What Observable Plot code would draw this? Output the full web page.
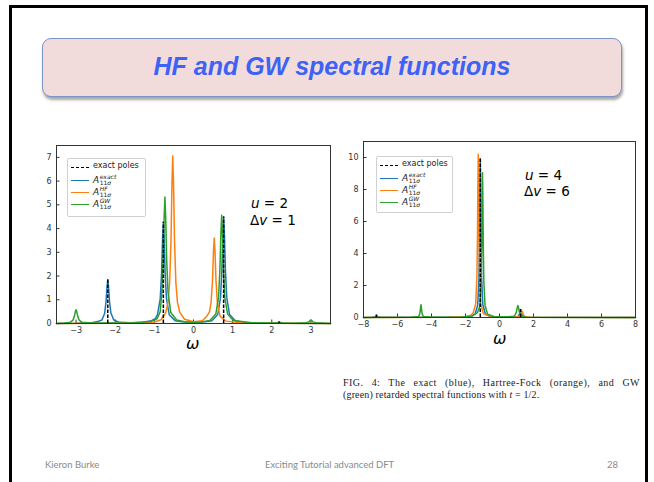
<!DOCTYPE html>
<html><head><meta charset="utf-8">
<script src="https://cdn.jsdelivr.net/npm/d3@7"></script>
<script src="https://cdn.jsdelivr.net/npm/@observablehq/plot@0.6"></script>
<style>
body{margin:0;background:#fff;}
#page{position:relative;width:654px;height:482px;overflow:hidden;background:#fff;}
.abs{position:absolute;white-space:nowrap;}
.slide{position:absolute;left:9px;top:5px;width:633px;height:500px;border:3px solid #000;}
.titlebox{position:absolute;left:42px;top:38px;width:578px;height:57px;background:#f2dcdb;border:1px solid #7d94c6;border-radius:9px;box-shadow:1px 3px 3px rgba(0,0,0,0.35);}
.title{position:absolute;left:42px;top:38px;width:580px;height:59px;line-height:57px;text-align:center;font-family:"Liberation Sans",Arial,sans-serif;font-weight:bold;font-style:italic;font-size:25px;color:#3d62f5;}
.foot{font-family:Lato,"Open Sans",sans-serif;font-size:9.5px;color:#8a8a8a;}
.cap{font-family:"Liberation Serif","DejaVu Serif",serif;font-size:10px;letter-spacing:0.15px;color:#222;}
.legend{position:absolute;background:rgba(255,255,255,0.9);border:1px solid #d0d0d0;border-radius:2px;}
.li{position:absolute;left:0;font-family:"DejaVu Sans",sans-serif;font-size:8px;color:#222;}
.sw{position:absolute;height:0;}
.ann{font-family:"DejaVu Sans",sans-serif;font-size:13.5px;color:#000;}
.omega{font-family:"DejaVu Sans",sans-serif;font-style:italic;font-size:16px;line-height:14px;color:#000;}
.A{font-style:italic;font-size:9px;}
.ss{display:inline-block;vertical-align:-2px;line-height:5.5px;font-size:6px;margin-left:0.5px;}
</style>
</head><body>
<div id="page">
  <div class="slide"></div>
  <div class="titlebox"></div>
  <div class="title">HF and GW spectral functions</div>
  <div id="left" class="abs" style="left:30px;top:140px;"></div>
  <div id="right" class="abs" style="left:330px;top:136px;"></div>
</div>
<script>
// ---------- data: left panel (u = 2, Δv = 1) ----------
const blue = "#1f77b4", orange = "#ff7f0e", green = "#2ca02c";
const xTicksL = [-3, -2, -1, 0, 1, 2, 3];
const yTicksL = [0, 1, 2, 3, 4, 5, 6, 7];
const polesL = [[-2.19, 1.84], [-0.77, 4.27], [0.77, 4.49], [2.19, 0.06]];
const exactL = [[-3.5,0.005],[-3.0,0.01],[-2.6,0.03],[-2.45,0.08],[-2.34,0.15],[-2.27,0.42],[-2.235,0.92],[-2.21,1.54],[-2.19,1.84],[-2.17,1.54],[-2.145,0.92],[-2.11,0.44],[-2.04,0.16],[-1.9,0.05],[-1.6,0.03],[-1.3,0.05],[-1.07,0.12],[-0.97,0.22],[-0.92,0.37],[-0.85,1.04],[-0.815,2.14],[-0.79,3.57],[-0.77,4.27],[-0.75,3.57],[-0.725,2.14],[-0.69,1.04],[-0.62,0.37],[-0.47,0.12],[-0.3,0.07],[0,0.05],[0.3,0.07],[0.47,0.12],[0.62,0.38],[0.69,1.09],[0.725,2.25],[0.75,3.75],[0.77,4.49],[0.79,3.75],[0.815,2.25],[0.85,1.09],[0.92,0.38],[1.07,0.12],[1.3,0.04],[1.7,0.02],[2.1,0.015],[2.17,0.05],[2.19,0.06],[2.21,0.05],[2.3,0.01],[3.5,0.005]];
const hfL = [[-3.5,0.003],[-2.0,0.01],[-1.3,0.025],[-1.0,0.06],[-0.83,0.16],[-0.71,0.45],[-0.65,0.9],[-0.61,1.7],[-0.575,3.5],[-0.55,5.9],[-0.53,7.06],[-0.51,5.9],[-0.485,3.5],[-0.45,1.7],[-0.41,0.9],[-0.35,0.47],[-0.23,0.18],[0,0.07],[0.23,0.12],[0.35,0.33],[0.41,0.5],[0.45,0.9],[0.485,1.8],[0.51,3.0],[0.53,3.6],[0.55,3.0],[0.575,1.8],[0.61,0.87],[0.68,0.3],[0.83,0.1],[1.2,0.03],[2.0,0.01],[3.5,0.003]];
const gwL = [[-3.5,0.005],[-3.3,0.02],[-3.15,0.05],[-3.08,0.14],[-3.045,0.29],[-3.02,0.48],[-3.0,0.58],[-2.98,0.48],[-2.955,0.29],[-2.92,0.14],[-2.85,0.05],[-2.6,0.02],[-1.5,0.03],[-1.1,0.08],[-0.93,0.2],[-0.85,0.5],[-0.81,1.3],[-0.775,2.67],[-0.75,4.45],[-0.73,5.33],[-0.71,4.45],[-0.685,2.67],[-0.65,1.3],[-0.58,0.46],[-0.43,0.15],[-0.2,0.06],[0,0.05],[0.2,0.06],[0.42,0.13],[0.57,0.4],[0.64,1.1],[0.675,2.28],[0.70,3.8],[0.72,4.56],[0.74,3.8],[0.765,2.28],[0.80,1.1],[0.87,0.4],[1.02,0.13],[1.5,0.03],[2.6,0.01],[2.88,0.03],[2.95,0.07],[2.98,0.12],[3.0,0.15],[3.02,0.12],[3.05,0.07],[3.12,0.03],[3.5,0.005]];

// ---------- data: right panel (u = 4, Δv = 6) ----------
const xTicksR = [-8, -6, -4, -2, 0, 2, 4, 6, 8];
const yTicksR = [0, 2, 4, 6, 8, 10];
const polesR = [[-7.24, 0.15], [-1.13, 9.9], [1.24, 0.5]];
const exactR = [[-8,0.003],[-7.5,0.01],[-7.32,0.04],[-7.27,0.1],[-7.24,0.15],[-7.21,0.1],[-7.16,0.04],[-7.0,0.01],[-4,0.01],[-2.0,0.03],[-1.6,0.1],[-1.43,0.22],[-1.28,0.8],[-1.21,2.4],[-1.175,4.95],[-1.15,8.3],[-1.13,9.9],[-1.11,8.3],[-1.085,4.95],[-1.05,2.4],[-0.98,0.8],[-0.83,0.22],[-0.6,0.08],[0,0.02],[0.8,0.03],[1.09,0.07],[1.16,0.17],[1.2,0.35],[1.24,0.5],[1.28,0.35],[1.32,0.17],[1.39,0.07],[1.6,0.02],[8,0.002]];
const hfR = [[-8,0.003],[-3,0.02],[-2.0,0.05],[-1.7,0.12],[-1.55,0.28],[-1.4,0.85],[-1.33,2.45],[-1.295,5.1],[-1.27,8.5],[-1.25,10.2],[-1.23,8.5],[-1.205,5.1],[-1.17,2.45],[-1.10,0.85],[-0.95,0.25],[-0.5,0.06],[0,0.03],[0.9,0.03],[1.18,0.07],[1.25,0.15],[1.29,0.3],[1.33,0.4],[1.37,0.3],[1.41,0.15],[1.48,0.07],[1.8,0.02],[8,0.003]];
const gwR = [[-8,0.003],[-5.2,0.01],[-4.77,0.06],[-4.70,0.2],[-4.665,0.4],[-4.64,0.67],[-4.62,0.8],[-4.60,0.67],[-4.575,0.4],[-4.54,0.2],[-4.47,0.06],[-4.0,0.01],[-2.2,0.03],[-1.6,0.1],[-1.3,0.3],[-1.15,0.75],[-1.08,2.2],[-1.045,4.5],[-1.02,7.55],[-1.0,9.05],[-0.98,7.55],[-0.955,4.5],[-0.92,2.2],[-0.85,0.75],[-0.7,0.2],[-0.3,0.05],[0.5,0.04],[0.85,0.08],[0.93,0.18],[1.0,0.38],[1.04,0.6],[1.08,0.75],[1.12,0.6],[1.16,0.38],[1.23,0.18],[1.31,0.08],[1.6,0.02],[8,0.003]];

function panel({width, height, ml, mt, mr, mb, xd, yd, xt, yt, exact, hf, gw, poles}) {
  const fw = width - ml - mr, fh = height - mt - mb;
  const X = d => d[0], Y = d => d[1];
  return Plot.plot({
    width, height, marginLeft: ml, marginTop: mt, marginRight: mr, marginBottom: mb,
    x: {domain: xd}, y: {domain: yd},
    style: {fontFamily: "DejaVu Sans, sans-serif", fontSize: "8px", color: "#333", background: "transparent", overflow: "visible"},
    marks: [
      Plot.axisX(xt, {tickSize: 0, tickPadding: 4, label: null}),
      Plot.axisY(yt, {tickSize: 0, tickPadding: 5, label: null}),
      Plot.tickX(xt, {x: d => d, insetTop: fh - 3.5, stroke: "#333"}),
      Plot.tickY(yt, {y: d => d, insetRight: fw - 3.5, stroke: "#333"}),
      Plot.line(exact, {x: X, y: Y, stroke: blue, strokeWidth: 1.5}),
      Plot.line(hf, {x: X, y: Y, stroke: orange, strokeWidth: 1.5}),
      Plot.line(gw, {x: X, y: Y, stroke: green, strokeWidth: 1.5}),
      Plot.ruleX(poles, {x: X, y1: 0, y2: Y, stroke: "#000", strokeWidth: 1.5, strokeDasharray: "3.5,1.5"}),
      Plot.frame({stroke: "#333", strokeWidth: 1})
    ]
  });
}

document.getElementById("left").append(panel({width: 310, height: 215, ml: 26, mt: 5, mr: 10, mb: 32,
  xd: [-3.5, 3.5], yd: [0, 7.5], xt: xTicksL, yt: yTicksL, exact: exactL, hf: hfL, gw: gwL, poles: polesL}));
document.getElementById("right").append(panel({width: 320, height: 215, ml: 33, mt: 5, mr: 15, mb: 34,
  xd: [-8, 8], yd: [0, 11], xt: xTicksR, yt: yTicksR, exact: exactR, hf: hfR, gw: gwR, poles: polesR}));

// ---------- legends, annotations, labels ----------
const page = document.getElementById("page");
function add(html) { page.insertAdjacentHTML("beforeend", html); }
function legend(x, y, w, h) {
  const items = [
    ["#000", true, "exact poles"],
    [blue, false, '<span class="A">A</span><span class="ss"><i>exact</i><br>11<i>σ</i></span>'],
    [orange, false, '<span class="A">A</span><span class="ss"><i>HF</i><br>11<i>σ</i></span>'],
    [green, false, '<span class="A">A</span><span class="ss"><i>GW</i><br>11<i>σ</i></span>']
  ];
  const ys = [8, 21, 33, 45];
  let s = `<div class="legend" style="left:${x}px;top:${y}px;width:${w}px;height:${h}px;">`;
  items.forEach(([c, dash, t], i) => {
    s += `<div class="sw" style="left:3px;top:${ys[i]}px;width:18px;border-top:1.5px ${dash ? "dashed" : "solid"} ${c};"></div>`;
    s += `<div class="li" style="left:25px;top:${ys[i] - 6}px;">${t}</div>`;
  });
  s += `</div>`;
  add(s);
}
legend(67, 158, 77, 57);
legend(376, 156, 75, 55);

add('<div class="abs ann" style="left:251px;top:195px;"><i>u</i> = 2</div>');
add('<div class="abs ann" style="left:250px;top:212px;">Δ<i>v</i> = 1</div>');
add('<div class="abs ann" style="left:525px;top:167px;"><i>u</i> = 4</div>');
add('<div class="abs ann" style="left:524px;top:183px;">Δ<i>v</i> = 6</div>');
add('<div class="abs omega" style="left:186px;top:337px;">ω</div>');
add('<div class="abs omega" style="left:493px;top:332px;">ω</div>');

add('<div class="abs cap" style="left:343px;top:377px;width:297px;letter-spacing:0.45px;text-align:justify;text-align-last:justify;">FIG. 4: The exact (blue), Hartree-Fock (orange), and GW</div>');
add('<div class="abs cap" style="left:343px;top:389px;">(green) retarded spectral functions with <i>t</i> = 1/2.</div>');

add('<div class="abs foot" style="left:45px;top:459px;">Kieron Burke</div>');
add('<div class="abs foot" style="left:265px;top:459px;">Exciting Tutorial advanced DFT</div>');
add('<div class="abs foot" style="left:607px;top:459px;">28</div>');
</script>
</body></html>
